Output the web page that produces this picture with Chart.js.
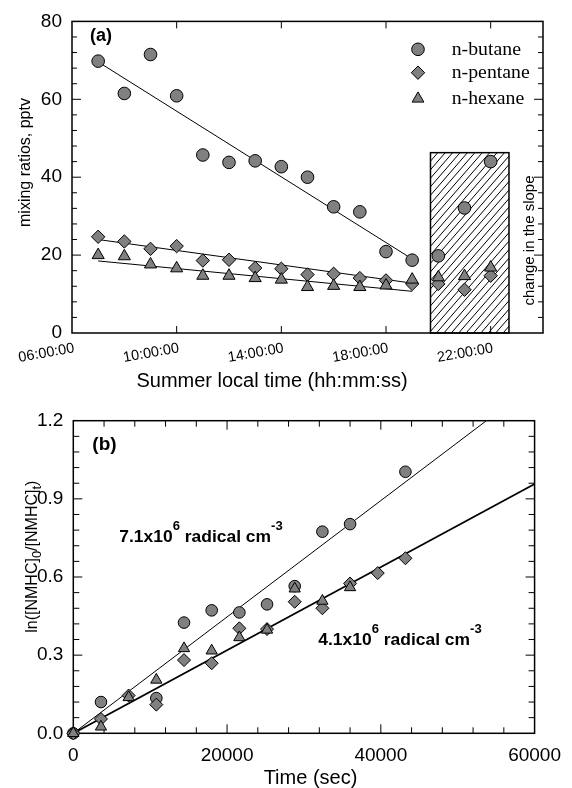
<!DOCTYPE html>
<html><head><meta charset="utf-8">
<script src="https://cdn.jsdelivr.net/npm/chart.js@4.4.1/dist/chart.umd.min.js"></script>
<style>
html,body{margin:0;padding:0;background:#fff;}
#wrap{position:relative;width:572px;height:788px;background:#fff;}
canvas{position:absolute;left:0;top:0;}
</style></head><body>
<div id="wrap">
<canvas id="c1" width="572" height="788"></canvas>
<canvas id="c2" width="572" height="788"></canvas>
</div>
<script>
// ---------- Panel (a): mixing ratios vs local time ----------
const hours   = [7,8,9,10,11,12,13,14,15,16,17,18,19,20,21,22];
const butane  = [69.8,61.5,71.5,60.9,45.7,43.8,44.2,42.7,40.0,32.4,31.1,20.9,18.7,19.8,32.1,44.0];
const pentane = [24.7,23.5,21.6,22.3,18.6,18.8,16.7,16.5,15.0,15.2,14.1,13.5,12.6,12.6,11.1,14.7];
const hexane  = [20.0,19.7,17.6,16.6,14.7,14.7,14.1,13.7,11.8,12.1,11.8,12.2,13.7,14.3,14.6,16.8];
const fitHours   = [7,19];
const butaneFit  = [69.6,19.0];
const pentaneFit = [24.0,12.8];
const hexaneFit  = [18.5,10.7];
const timeTickHours  = [6,10,14,18,22];
const timeTickLabels = ['06:00:00','10:00:00','14:00:00','18:00:00','22:00:00'];
const slopeBoxHours = [19.7,22.7];
const slopeBoxTop = 46.3;
const seriesNames = ['n-butane','n-pentane','n-hexane'];

// ---------- Panel (b): ln ratio vs time ----------
const secButane  = [0,3600,10800,14400,18000,21600,25200,28800,32400,36000,43200];
const lnButane   = [0,0.12,0.135,0.425,0.472,0.464,0.495,0.565,0.774,0.803,1.004];
const secPentane = [0,3600,7200,10800,14400,18000,21600,25200,28800,32400,36000,39600,43200];
const lnPentane  = [0,0.055,0.145,0.11,0.281,0.269,0.403,0.40,0.505,0.48,0.575,0.615,0.672];
const secHexane  = [0,3600,7200,10800,14400,18000,21600,25200,28800,32400,36000];
const lnHexane   = [0,0.025,0.138,0.205,0.326,0.317,0.368,0.397,0.555,0.508,0.56];
const fitSec  = [0,60000];
const fitFast = [0,1.34];
const fitSlow = [0,0.957];
const rateFast = ['7.1x10','6',' radical cm','-3'];
const rateSlow = ['4.1x10','6',' radical cm','-3'];

Chart.defaults.color = '#000';
const SANS = "'Liberation Sans', Arial, Helvetica, sans-serif";
const SERIF = "'Liberation Serif', 'Times New Roman', serif";
Chart.defaults.font.family = SANS;
const GRAY = '#808080';

function pts(xs, ys){ return xs.map((v,i)=>({x:v,y:ys[i]})); }

function txt(ctx, s, x, y, font, align, base, sx, rot){
  ctx.save(); ctx.font = font; ctx.textAlign = align||'left'; ctx.textBaseline = base||'alphabetic';
  ctx.fillStyle = '#000'; ctx.translate(x,y); if (rot) ctx.rotate(rot); if (sx) ctx.scale(sx,1);
  ctx.fillText(s,0,0); ctx.restore();
}
// parts: even index = normal, odd index = raised/lowered
function rich(ctx, parts, x, y, mainFont, smallFont, shift, sx, rot, center){
  ctx.save(); ctx.fillStyle='#000'; ctx.textAlign='left'; ctx.textBaseline='alphabetic';
  ctx.translate(x,y); if (rot) ctx.rotate(rot); if (sx) ctx.scale(sx,1);
  let total = 0;
  parts.forEach((p,i)=>{ ctx.font = (i%2)?smallFont:mainFont; total += ctx.measureText(p).width; });
  let cx = center ? -total/2 : 0;
  parts.forEach((p,i)=>{ ctx.font = (i%2)?smallFont:mainFont; ctx.fillText(p, cx, (i%2)?shift:0); cx += ctx.measureText(p).width; });
  ctx.restore();
}
function marks(min,max,minor,major,lenMinor,lenMajor){
  const out=[]; const n=Math.round((max-min)/minor);
  for(let i=1;i<n;i++){ const v=min+i*minor; const q=v/major; out.push([v, Math.abs(q-Math.round(q))<1e-6?lenMajor:lenMinor]); }
  return out;
}
function frame(chart, xMarks, yMarks){
  const {ctx, chartArea:a, scales:{x,y}} = chart;
  ctx.save(); ctx.strokeStyle='#000'; ctx.lineWidth=1; ctx.beginPath();
  xMarks.forEach(([v,len])=>{ const p=x.getPixelForValue(v); ctx.moveTo(p,a.bottom); ctx.lineTo(p,a.bottom-len); ctx.moveTo(p,a.top); ctx.lineTo(p,a.top+len); });
  yMarks.forEach(([v,len])=>{ const p=y.getPixelForValue(v); ctx.moveTo(a.left,p); ctx.lineTo(a.left+len,p); ctx.moveTo(a.right,p); ctx.lineTo(a.right-len,p); });
  ctx.stroke();
  ctx.lineWidth=1.5; ctx.strokeRect(a.left,a.top,a.right-a.left,a.bottom-a.top);
  ctx.restore();
}
function legendMark(ctx, style, r, x, y){
  ctx.save(); ctx.fillStyle=GRAY; ctx.strokeStyle='#000'; ctx.lineWidth=1;
  Chart.helpers.drawPoint(ctx, {pointStyle:style, radius:r, rotation:0, borderWidth:1}, x, y);
  ctx.restore();
}

const mk = {backgroundColor:GRAY, borderColor:'#000', borderWidth:1, showLine:false, clip:false};
const ln = {showLine:true, pointRadius:0, borderColor:'#000', backgroundColor:'#000', fill:false, order:10};

const panelA = {
  id:'panelA',
  beforeDatasetsDraw(chart){
    const {ctx, scales:{x,y}} = chart;
    const x0=x.getPixelForValue(slopeBoxHours[0]), x1=x.getPixelForValue(slopeBoxHours[1]);
    const y0=y.getPixelForValue(slopeBoxTop), y1=y.getPixelForValue(0);
    ctx.save();
    ctx.fillStyle='#fff'; ctx.fillRect(x0,y0,x1-x0,y1-y0);
    ctx.beginPath(); ctx.rect(x0,y0,x1-x0,y1-y0); ctx.clip();
    ctx.strokeStyle='#000'; ctx.lineWidth=1; ctx.beginPath();
    const h=y1-y0, k=1.15, sp=7.4;
    for(let s=x0-h/k; s<x1+sp; s+=sp){ ctx.moveTo(s,y1); ctx.lineTo(s+h/k,y0); }
    ctx.stroke(); ctx.restore();
    ctx.save(); ctx.lineWidth=1.5; ctx.strokeStyle='#000'; ctx.strokeRect(x0,y0,x1-x0,y1-y0); ctx.restore();
    frame(chart, timeTickHours.slice(1).map(v=>[v,7]), marks(0,80,4,20,5,9));
  },
  afterDraw(chart){
    const {ctx, scales:{x}} = chart;
    timeTickHours.forEach((h,i)=>{
      txt(ctx, timeTickLabels[i], x.getPixelForValue(h)+1, 341, '14.5px '+SANS, 'right', 'top', 0, -10*Math.PI/180);
    });
    txt(ctx, 'Summer local time (hh:mm:ss)', 272, 387, '20px '+SANS, 'center');
    txt(ctx, 'mixing ratios, pptv', 30, 162.5, '16px '+SANS, 'center', 'alphabetic', 0, -Math.PI/2);
    txt(ctx, '(a)', 90, 36, 'bold 18px '+SANS, 'left', 'middle');
    txt(ctx, 'change in the slope', 529.5, 240.5, '15px '+SANS, 'center', 'middle', 0, -Math.PI/2);
    const styles=[['circle',6.3],['rectRot',6.7],['triangle',6.8]];
    const ly=[49.3,72.7,98.7];
    styles.forEach((s,i)=>{
      legendMark(ctx, s[0], s[1], 418, ly[i]);
      txt(ctx, seriesNames[i], 451.7, ly[i]+5.2, '18px '+SERIF, 'left', 'alphabetic', 1.1);
    });
  }
};

const panelB = {
  id:'panelB',
  beforeDatasetsDraw(chart){
    frame(chart, marks(0,60000,4000,20000,6,9), marks(0,1.2,0.06,0.3,6,9));
  },
  afterDraw(chart){
    const {ctx} = chart;
    txt(ctx, 'Time (sec)', 310.5, 784, '20px '+SANS, 'center');
    rich(ctx, ['ln([NMHC]','0','/[NMHC]','t',')'], 36.7, 556.7, '16px '+SANS, '13px '+SANS, 4, 0, -Math.PI/2, true);
    txt(ctx, '(b)', 92.3, 445, 'bold 19px '+SANS, 'left', 'middle');
    rich(ctx, rateFast, 119.3, 542, 'bold 16px '+SANS, 'bold 12px '+SANS, -12, 1.09);
    rich(ctx, rateSlow, 318.3, 645, 'bold 16px '+SANS, 'bold 12px '+SANS, -12, 1.09);
  }
};

new Chart(document.getElementById('c1'), {
  type:'scatter',
  data:{datasets:[
    Object.assign({label:seriesNames[2], data:pts(hours,hexane), pointStyle:'triangle', pointRadius:7, order:1}, mk),
    Object.assign({label:seriesNames[1], data:pts(hours,pentane), pointStyle:'rectRot', pointRadius:6.7, order:2}, mk),
    Object.assign({label:seriesNames[0], data:pts(hours,butane), pointStyle:'circle', pointRadius:6.3, order:3}, mk),
    Object.assign({label:'butane fit', data:pts(fitHours,butaneFit), borderWidth:1}, ln),
    Object.assign({label:'pentane fit', data:pts(fitHours,pentaneFit), borderWidth:1}, ln),
    Object.assign({label:'hexane fit', data:pts(fitHours,hexaneFit), borderWidth:1}, ln)
  ]},
  options:{
    responsive:false, animation:false, devicePixelRatio:1,
    layout:{padding:{left:0, top:17, right:29, bottom:393}},
    plugins:{legend:{display:false}, tooltip:{enabled:false}},
    scales:{
      x:{type:'linear', min:6, max:24, grid:{display:false, drawTicks:false}, border:{display:false},
         ticks:{display:false}, afterFit:s=>{s.height=62;}},
      y:{type:'linear', min:0, max:80, grid:{display:false, drawTicks:false}, border:{display:false},
         ticks:{stepSize:20, font:{size:19}, padding:10}, afterFit:s=>{s.width=72;}}
    }
  },
  plugins:[panelA]
});

new Chart(document.getElementById('c2'), {
  type:'scatter',
  data:{datasets:[
    Object.assign({label:seriesNames[2], data:pts(secHexane,lnHexane), pointStyle:'triangle', pointRadius:6.5, order:1}, mk),
    Object.assign({label:seriesNames[1], data:pts(secPentane,lnPentane), pointStyle:'rectRot', pointRadius:6.5, order:2}, mk),
    Object.assign({label:seriesNames[0], data:pts(secButane,lnButane), pointStyle:'circle', pointRadius:5.8, order:3}, mk),
    Object.assign({label:'7.1e6 fit', data:pts(fitSec,fitFast), borderWidth:1}, ln),
    Object.assign({label:'4.1e6 fit', data:pts(fitSec,fitSlow), borderWidth:1.8}, ln)
  ]},
  options:{
    responsive:false, animation:false, devicePixelRatio:1,
    layout:{padding:{left:0, top:420.7, right:29.7, bottom:0}},
    plugins:{legend:{display:false}, tooltip:{enabled:false}},
    scales:{
      x:{type:'linear', min:0, max:60000, grid:{display:false, drawTicks:false}, border:{display:false},
         ticks:{stepSize:20000, font:{size:19}, padding:11, callback:v=>String(v)}, afterFit:s=>{s.height=54.7;}},
      y:{type:'linear', min:0, max:1.2, grid:{display:false, drawTicks:false}, border:{display:false},
         ticks:{stepSize:0.3, font:{size:19}, padding:10, callback:v=>v.toFixed(1)}, afterFit:s=>{s.width=73.3;}}
    }
  },
  plugins:[panelB]
});
</script>
</body></html>
